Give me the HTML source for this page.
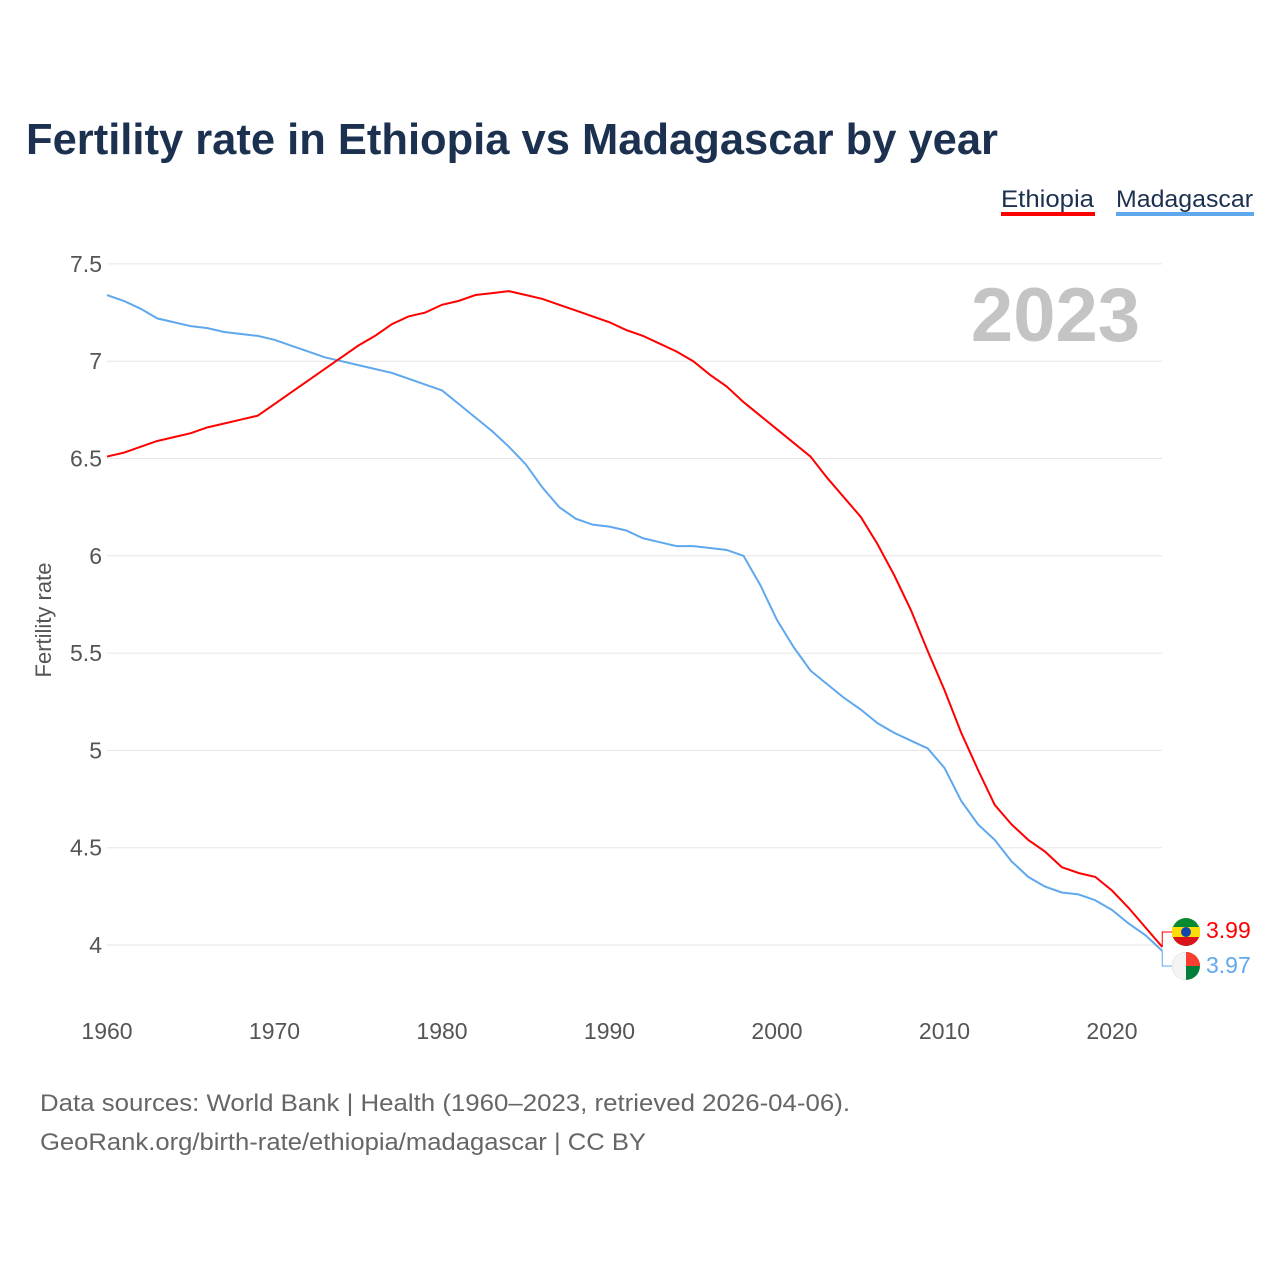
<!DOCTYPE html>
<html><head><meta charset="utf-8">
<style>
body{margin:0;background:#fff;font-family:"Liberation Sans",sans-serif;}
#wrap{position:relative;width:1280px;height:1280px;overflow:hidden;}
</style></head>
<body>
<div id="wrap">
<svg id="chart" width="1280" height="1280" xmlns="http://www.w3.org/2000/svg">
<text x="26" y="154" font-size="44" font-weight="bold" fill="#1c3150" textLength="972" lengthAdjust="spacingAndGlyphs">Fertility rate in Ethiopia vs Madagascar by year</text>
<g>
<text x="1001" y="207" font-size="24" fill="#1c3150" textLength="93" lengthAdjust="spacingAndGlyphs">Ethiopia</text>
<rect x="1001" y="212" width="94" height="4" fill="#ff0000"/>
<text x="1116" y="207" font-size="24" fill="#1c3150" textLength="137" lengthAdjust="spacingAndGlyphs">Madagascar</text>
<rect x="1116" y="212" width="138" height="4" fill="#5fa8ee"/>
</g>
<text x="1140" y="341" font-size="76" font-weight="bold" fill="#c4c4c4" text-anchor="end">2023</text>
<g id="grid"></g>
<g id="xticks"></g>
<text transform="translate(51,620) rotate(-90)" font-size="22" fill="#555" text-anchor="middle">Fertility rate</text>
<g id="lines"></g>
<g>
<circle cx="1186" cy="932" r="14" fill="#078930"/>
<rect x="1172" y="927" width="28" height="10" fill="#fcdd09"/>
<rect x="1172" y="937" width="28" height="10" fill="#da121a" clip-path="circle(14px at 14px -5px)"/>
<circle cx="1186" cy="932" r="5" fill="#0f47af"/>
<circle cx="1186" cy="966" r="14" fill="#007e3a"/>
<path d="M1186 952 A14 14 0 0 1 1200 966 L1186 966 Z" fill="#fc3d32"/>
<path d="M1186 952 A14 14 0 0 0 1186 980 Z" fill="#f4f4f4"/>
<text x="1206" y="938" font-size="23" fill="#ff0000">3.99</text>
<text x="1206" y="973" font-size="23" fill="#5fa8ee">3.97</text>
</g>
<text x="40" y="1111" font-size="24" fill="#666" textLength="810" lengthAdjust="spacingAndGlyphs">Data sources: World Bank | Health (1960–2023, retrieved 2026-04-06).</text>
<text x="40" y="1150" font-size="24" fill="#666" textLength="606" lengthAdjust="spacingAndGlyphs">GeoRank.org/birth-rate/ethiopia/madagascar | CC BY</text>
</svg>
</div>
<script>
const years=[];for(let y=1960;y<=2023;y++)years.push(y);
const ethiopia=[6.51,6.53,6.56,6.59,6.61,6.63,6.66,6.68,6.70,6.72,6.78,6.84,6.90,6.96,7.02,7.08,7.13,7.19,7.23,7.25,7.29,7.31,7.34,7.35,7.36,7.34,7.32,7.29,7.26,7.23,7.20,7.16,7.13,7.09,7.05,7.00,6.93,6.87,6.79,6.72,6.65,6.58,6.51,6.40,6.30,6.20,6.06,5.90,5.72,5.51,5.31,5.09,4.90,4.72,4.62,4.54,4.48,4.40,4.37,4.35,4.28,4.19,4.09,3.99];
const madagascar=[7.34,7.31,7.27,7.22,7.20,7.18,7.17,7.15,7.14,7.13,7.11,7.08,7.05,7.02,7.00,6.98,6.96,6.94,6.91,6.88,6.85,6.78,6.71,6.64,6.56,6.47,6.35,6.25,6.19,6.16,6.15,6.13,6.09,6.07,6.05,6.05,6.04,6.03,6.00,5.85,5.67,5.53,5.41,5.34,5.27,5.21,5.14,5.09,5.05,5.01,4.91,4.74,4.62,4.54,4.43,4.35,4.30,4.27,4.26,4.23,4.18,4.11,4.05,3.97];
const yTicks=[4,4.5,5,5.5,6,6.5,7,7.5];
const yTickLabels=["4","4.5","5","5.5","6","6.5","7","7.5"];
const xTicks=[1960,1970,1980,1990,2000,2010,2020];
const NS="http://www.w3.org/2000/svg";
const X=y=>107+(y-1960)*16.75;
const Y=v=>945-(v-4)*194.6;
const grid=document.getElementById('grid');
yTicks.forEach((t,i)=>{
 const l=document.createElementNS(NS,'line');
 l.setAttribute('x1',107);l.setAttribute('x2',1162);l.setAttribute('y1',Y(t));l.setAttribute('y2',Y(t));
 l.setAttribute('stroke','#e6e6e6');l.setAttribute('stroke-width','1');
 
 
 grid.appendChild(l);
 const tx=document.createElementNS(NS,'text');
 tx.setAttribute('x',102);tx.setAttribute('y',Y(t)+8);tx.setAttribute('text-anchor','end');
 tx.setAttribute('font-size','23');tx.setAttribute('fill','#555');tx.textContent=yTickLabels[i];
 
 
 grid.appendChild(tx);
});
const xt=document.getElementById('xticks');
xTicks.forEach(t=>{
 const tx=document.createElementNS(NS,'text');
 tx.setAttribute('x',X(t));tx.setAttribute('y',1039);tx.setAttribute('text-anchor','middle');
 tx.setAttribute('font-size','23');tx.setAttribute('fill','#555');tx.textContent=t;
 
 
 xt.appendChild(tx);
});
const lines=document.getElementById('lines');
function drawLine(vals,color,name){
 const p=document.createElementNS(NS,'polyline');
 p.setAttribute('points',vals.map((v,i)=>X(years[i])+','+Y(v)).join(' '));
 p.setAttribute('fill','none');p.setAttribute('stroke',color);p.setAttribute('stroke-width','2');
 
 
 lines.appendChild(p);
}
drawLine(madagascar,'#5fa8ee','madagascar-line');
drawLine(ethiopia,'#ff0000','ethiopia-line');
const le=ethiopia[ethiopia.length-1],lm=madagascar[madagascar.length-1];
const c1=document.createElementNS(NS,'polyline');
c1.setAttribute('points',`${X(2023)},${Y(le)} ${X(2023)},932 1172,932`);
c1.setAttribute('fill','none');c1.setAttribute('stroke','#ff0000');c1.setAttribute('stroke-width','1');


lines.appendChild(c1);
const c2=document.createElementNS(NS,'polyline');
c2.setAttribute('points',`${X(2023)},${Y(lm)} ${X(2023)},966 1172,966`);
c2.setAttribute('fill','none');c2.setAttribute('stroke','#5fa8ee');c2.setAttribute('stroke-width','1');


lines.appendChild(c2);
</script>
</body></html>
